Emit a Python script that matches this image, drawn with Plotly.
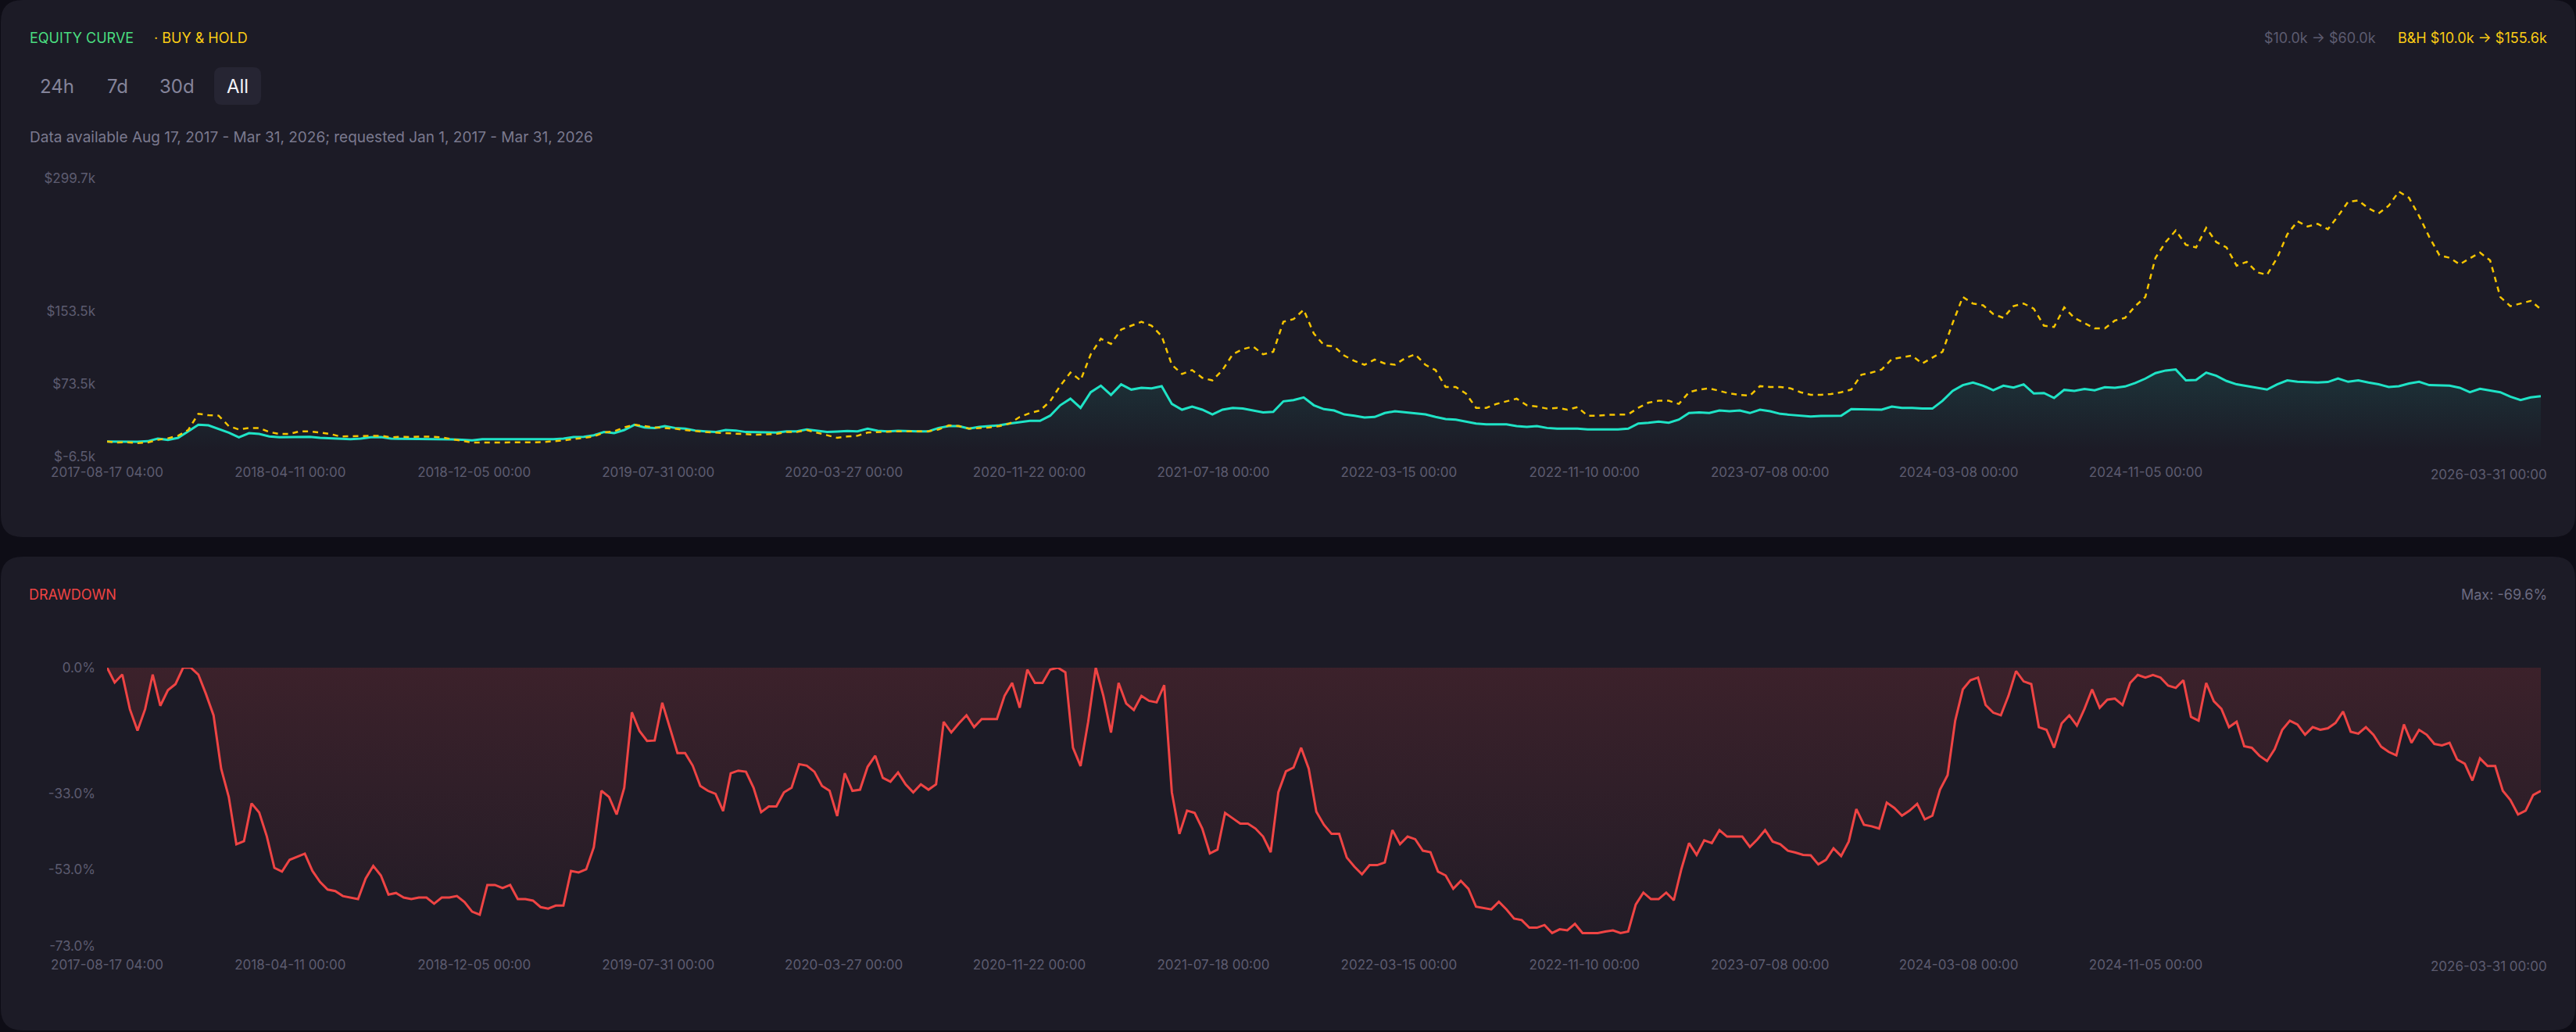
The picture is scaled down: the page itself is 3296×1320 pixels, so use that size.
import pandas as pd
import plotly.graph_objects as go

W, H = 3296, 1320

start = "2017-08-17 04:00"
end = "2026-03-31 00:00"

# strategy equity, $k
equity_k = [
    10.0, 9.8, 9.5, 9.8, 10.4, 13.3, 11.9, 14.1, 21.3, 28.5, 27.9, 24.2, 19.9, 14.7, 19.3, 18.4,
    15.6, 14.7, 15.0, 15.0, 15.3, 14.1, 13.6, 13.3, 12.7, 13.3, 14.7, 15.0, 13.3, 13.0, 13.0, 13.0,
    12.7, 12.7, 12.4, 11.9, 11.3, 12.7, 12.7, 12.7, 12.4, 12.7, 12.4, 12.7, 12.7, 13.3, 15.0, 15.3,
    17.0, 20.5, 19.3, 22.7, 28.5, 25.6, 25.0, 27.0, 25.0, 24.2, 22.2, 21.3, 20.5, 22.7, 22.2, 20.5,
    20.5, 19.9, 19.9, 21.3, 21.3, 23.3, 22.2, 20.5, 21.1, 21.6, 21.3, 24.2, 21.9, 21.3, 21.9, 21.3,
    21.3, 21.3, 25.0, 27.0, 27.0, 24.2, 26.2, 27.0, 27.9, 29.9, 31.3, 32.8, 32.8, 38.5, 50.0, 57.2,
    47.1, 64.3, 71.5, 61.4, 72.9, 67.2, 69.2, 68.6, 70.9, 51.4, 45.1, 48.5, 45.1, 39.9, 45.1, 47.1,
    46.3, 44.2, 42.2, 42.8, 54.3, 55.7, 58.6, 50.0, 45.7, 44.2, 39.9, 38.5, 36.5, 37.1, 41.4, 43.4,
    42.2, 41.4, 39.9, 37.1, 34.8, 34.2, 31.9, 29.9, 29.0, 29.0, 29.0, 27.0, 26.2, 27.0, 25.0, 24.2,
    24.2, 24.2, 23.3, 23.3, 23.3, 23.3, 24.2, 29.9, 30.7, 31.9, 30.7, 34.2, 41.4, 42.2, 41.4, 44.2,
    43.4, 44.2, 41.4, 45.1, 43.4, 40.5, 39.4, 38.5, 37.6, 38.2, 38.5, 38.5, 45.7, 45.7, 45.1, 45.1,
    48.5, 47.1, 47.1, 46.3, 46.3, 54.9, 65.8, 72.1, 75.0, 71.5, 66.6, 71.5, 69.5, 73.0, 62.9, 63.4,
    58.0, 66.9, 65.8, 67.8, 66.4, 69.8, 69.2, 70.6, 74.4, 79.3, 85.3, 88.2, 89.3, 77.3, 77.8, 85.9,
    82.4, 76.7, 73.0, 71.0, 68.6, 67.2, 73.0, 77.3, 75.8, 75.6, 75.0, 75.6, 79.5, 75.8, 77.3, 75.0,
    73.0, 70.1, 71.0, 73.9, 75.8, 72.1, 72.1, 71.5, 69.2, 64.3, 68.1, 66.4, 64.3, 59.4, 55.7, 58.6,
    60.0,
]

# buy & hold, $k
buy_hold_k = [
    10.0, 9.0, 9.2, 8.4, 9.0, 11.9, 13.6, 16.4, 22.7, 40.6, 39.0, 38.5, 27.0, 23.3, 25.0, 25.0,
    20.5, 18.4, 18.4, 21.3, 21.3, 19.9, 18.4, 15.6, 15.6, 16.1, 16.4, 16.4, 14.7, 15.3, 15.0, 15.6,
    15.3, 14.7, 12.7, 10.7, 9.0, 9.0, 9.0, 9.0, 8.7, 9.0, 9.2, 9.5, 10.1, 11.3, 12.7, 14.1,
    15.6, 19.9, 21.3, 25.6, 28.5, 27.0, 25.6, 25.0, 24.2, 22.7, 21.3, 20.5, 19.9, 19.3, 18.4, 18.1,
    17.6, 18.1, 18.4, 20.5, 20.5, 22.7, 19.9, 17.0, 14.1, 15.6, 16.4, 19.9, 20.5, 21.3, 21.3, 21.3,
    21.1, 21.3, 23.3, 27.9, 27.0, 24.2, 25.0, 25.6, 27.0, 29.9, 37.1, 41.4, 44.2, 54.3, 71.5, 85.9,
    77.3, 106.0, 123.2, 117.4, 133.2, 137.5, 141.8, 137.5, 126.0, 94.5, 84.4, 88.7, 80.1, 77.3, 88.7, 106.0,
    111.7, 114.6, 106.0, 108.8, 141.8, 144.7, 155.0, 128.9, 116.0, 114.6, 104.6, 98.8, 94.5, 100.2, 95.9, 94.5,
    101.7, 106.0, 94.5, 88.7, 70.1, 70.1, 62.9, 47.1, 47.1, 51.4, 54.3, 57.2, 50.0, 48.5, 46.3, 47.1,
    45.1, 47.9, 38.5, 38.5, 39.4, 39.4, 39.9, 47.1, 52.8, 54.9, 54.9, 51.4, 64.3, 67.2, 68.6, 65.8,
    62.9, 61.4, 60.6, 71.0, 70.1, 70.1, 68.6, 64.3, 61.4, 61.4, 62.3, 64.3, 67.2, 83.6, 85.9, 89.3,
    100.8, 102.6, 104.6, 95.9, 102.6, 108.8, 140.4, 169.1, 161.9, 159.9, 150.4, 146.1, 159.0, 161.9, 156.2, 137.5,
    136.1, 157.6, 146.1, 140.4, 134.6, 134.6, 143.2, 146.1, 159.0, 169.1, 212.2, 229.4, 242.3, 226.5, 223.6, 245.1,
    229.4, 223.6, 203.5, 207.8, 196.3, 193.5, 212.2, 238.0, 252.3, 246.6, 249.5, 243.7, 258.1, 273.8, 275.3, 266.7,
    260.9, 269.5, 285.0, 278.2, 258.1, 235.1, 215.0, 212.2, 205.0, 211.6, 217.9, 209.3, 169.1, 159.0, 161.9, 164.8,
    155.6,
]

# drawdown, %
drawdown_pct = [
    0, -3.9, -1.8, -10.9, -16.5, -10.9, -1.8, -10.0, -5.9, -4.3, 0, 0, -1.8, -6.9, -12.5, -26.5,
    -33.9, -46.3, -45.5, -35.6, -38.0, -44.2, -52.5, -53.5, -50.4, -49.6, -48.8, -53.3, -56.2, -58.2, -58.6, -59.9,
    -60.3, -60.7, -55.3, -52.0, -54.5, -59.5, -59.1, -60.3, -60.7, -60.3, -60.3, -61.9, -60.3, -60.3, -59.9, -61.5,
    -64.0, -64.8, -57.0, -57.0, -57.8, -57.0, -60.7, -60.7, -61.1, -62.8, -63.2, -62.4, -62.4, -53.3, -53.7, -52.9,
    -47.1, -32.3, -33.9, -38.5, -31.5, -11.7, -16.6, -19.2, -19.1, -9.2, -15.8, -22.4, -22.4, -25.7, -31.0, -32.3,
    -33.1, -37.6, -27.7, -27.0, -27.3, -31.5, -37.9, -36.4, -36.4, -32.7, -31.5, -25.3, -25.7, -27.3, -31.0, -32.3,
    -38.9, -27.7, -32.3, -32.0,
    -26.0, -23.1, -28.9, -29.9, -27.5, -30.6, -32.7, -30.6, -32.0, -30.6, -14.2, -17.0, -14.6, -12.5, -15.6, -13.5,
    -13.5, -13.5, -7.4, -4.0, -10.5, -0.5, -4.0, -4.0, -0.5, 0, -1.2, -21.0, -25.8, -14.2, 0, -7.4,
    -17.0, -4.0, -9.4, -11.1, -7.4, -8.7, -9.1, -4.6, -32.7, -43.6, -37.5, -38.1, -42.2, -48.7, -47.7, -38.1,
    -39.5, -40.9, -40.9, -42.2, -44.3, -48.4, -32.7, -27.2, -26.2, -21.0, -26.5, -37.8, -41.2, -43.6, -43.6, -49.8,
    -52.2, -54.2, -51.8, -51.8, -51.1, -42.6, -46.3, -44.3, -45.0, -48.0, -48.4, -53.5, -54.5, -58.0, -55.9, -58.0,
    -62.7, -63.1, -63.4, -61.4, -63.4, -65.8, -66.2, -68.2, -68.2, -67.5, -69.6, -68.6, -68.9, -67.2, -69.6, -69.6,
    -69.6, -69.2, -68.9, -69.6, -69.2, -62.1, -59.0, -60.7, -60.7, -59.0, -61.0, -52.8, -46.0, -49.1,
    -45.3, -46.0, -42.6, -44.3, -44.3, -44.3, -47.0, -45.0, -42.6, -45.6, -46.3, -48.0, -48.5, -49.1, -49.2, -51.6,
    -50.4, -47.4, -49.4, -45.6, -37.1, -41.2, -41.6, -42.2, -35.4, -36.8, -38.8, -37.5, -35.7, -39.8, -38.8, -32.0,
    -28.2, -13.9, -5.7, -3.3, -2.6, -9.8, -11.8, -12.5, -7.4, -0.9, -3.6, -4.3, -15.6, -16.3, -21.0, -14.6,
    -12.5, -15.2, -10.8, -5.7, -10.5, -8.4, -8.1, -9.8, -4.0, -1.9, -2.6, -1.9, -2.6, -4.7, -5.3, -3.3,
    -12.9, -13.9, -4.0, -8.8, -10.8, -15.6, -14.2, -20.6, -21.0, -23.1, -24.5, -21.4, -16.3, -13.9, -14.9, -17.6,
    -15.6, -16.3, -15.9, -14.5, -11.5, -16.8, -17.3, -15.6, -17.6, -20.7, -22.1, -23.0, -14.9, -19.7, -16.3, -17.6,
    -20.0, -20.4, -19.7, -24.1, -25.2, -29.6, -23.8, -25.8, -25.8, -32.3, -34.7, -38.5, -37.5, -33.4, -32.3,
]

x_tick_dates = ["2017-08-17 04:00", "2018-04-11", "2018-12-05", "2019-07-31", "2020-03-27", "2020-11-22",
                "2021-07-18", "2022-03-15", "2022-11-10", "2023-07-08", "2024-03-08", "2024-11-05"]
x_tick_text = ["2017-08-17 04:00", "2018-04-11 00:00", "2018-12-05 00:00", "2019-07-31 00:00",
               "2020-03-27 00:00", "2020-11-22 00:00", "2021-07-18 00:00", "2022-03-15 00:00",
               "2022-11-10 00:00", "2023-07-08 00:00", "2024-03-08 00:00", "2024-11-05 00:00"]
last_tick_text = "2026-03-31 00:00"

eq_tick_vals = [-6.5, 73.5, 153.5, 299.7]
eq_tick_text = ["$-6.5k", "$73.5k", "$153.5k", "$299.7k"]
dd_tick_vals = [0, -33, -53, -73]
dd_tick_text = ["0.0%", "-33.0%", "-53.0%", "-73.0%"]

equity_dates = pd.date_range(start, end, periods=len(equity_k))
bh_dates = pd.date_range(start, end, periods=len(buy_hold_k))
dd_dates = pd.date_range(start, end, periods=len(drawdown_pct))

FONT = "Inter"
GREY = "#5d5c70"
CARD = "#1c1b26"
PAGE = "#0e0d16"


def px(x):
    return x / W


def py(y):
    return 1 - y / H


def rounded(x0, y0, x1, y1, r):
    pts = [("M", x0 + r, y0), ("L", x1 - r, y0), ("Q", x1, y0, x1, y0 + r), ("L", x1, y1 - r),
           ("Q", x1, y1, x1 - r, y1), ("L", x0 + r, y1), ("Q", x0, y1, x0, y1 - r),
           ("L", x0, y0 + r), ("Q", x0, y0, x0 + r, y0)]
    out = []
    for p in pts:
        cmd, coords = p[0], p[1:]
        xy = []
        for k in range(0, len(coords), 2):
            xy.append(f"{px(coords[k]):.6f},{py(coords[k + 1]):.6f}")
        out.append(cmd + " " + " ".join(xy))
    return " ".join(out) + " Z"


fig = go.Figure()

fig.add_trace(go.Scatter(
    x=equity_dates, y=equity_k, mode="lines",
    line=dict(color="#1fe3c6", width=3),
    fill="tozeroy",
    fillgradient=dict(type="vertical",
                      colorscale=[[0, "rgba(31,227,198,0.0)"], [1, "rgba(31,227,198,0.12)"]]),
    xaxis="x", yaxis="y", hoverinfo="skip",
))
fig.add_trace(go.Scatter(
    x=bh_dates, y=buy_hold_k, mode="lines",
    line=dict(color="#f5c400", width=2.5, dash="7px,6px"),
    xaxis="x", yaxis="y", hoverinfo="skip",
))
fig.add_trace(go.Scatter(
    x=dd_dates, y=drawdown_pct, mode="lines",
    line=dict(color="#ef4444", width=3),
    fill="tozeroy",
    fillgradient=dict(type="vertical",
                      colorscale=[[0, "rgba(239,68,68,0.03)"], [1, "rgba(239,68,68,0.15)"]]),
    xaxis="x2", yaxis="y2", hoverinfo="skip",
))

xdom = [px(137), px(3251)]
axis_common = dict(showgrid=False, zeroline=False, showline=False, ticks="", automargin=False,
                   tickfont=dict(family=FONT, size=17, color=GREY))

fig.update_layout(
    width=W, height=H, autosize=False,
    margin=dict(l=0, r=0, t=0, b=0, pad=0, autoexpand=False),
    paper_bgcolor=PAGE, plot_bgcolor="rgba(0,0,0,0)",
    showlegend=False,
    font=dict(family=FONT, color=GREY),
    xaxis=dict(domain=xdom, anchor="y", type="date", range=[start, end],
               tickvals=x_tick_dates, ticktext=x_tick_text, ticklabelstandoff=8, **axis_common),
    yaxis=dict(domain=[py(584), py(228)], anchor="x", range=[-6.5, 299.7],
               tickvals=eq_tick_vals, ticktext=eq_tick_text, ticklabelstandoff=14, **axis_common),
    xaxis2=dict(domain=xdom, anchor="y2", type="date", range=[start, end],
                tickvals=x_tick_dates, ticktext=x_tick_text, ticklabelstandoff=12, **axis_common),
    yaxis2=dict(domain=[py(1210), py(854)], anchor="x2", range=[-73, 0],
                tickvals=dd_tick_vals, ticktext=dd_tick_text, ticklabelstandoff=14, **axis_common),
    shapes=[
        dict(type="path", xref="paper", yref="paper", path=rounded(1, 0, 3295, 687, 28),
             fillcolor=CARD, line=dict(width=0), layer="below"),
        dict(type="path", xref="paper", yref="paper", path=rounded(1, 712, 3295, 1318, 28),
             fillcolor=CARD, line=dict(width=0), layer="below"),
        dict(type="path", xref="paper", yref="paper", path=rounded(274, 86, 334, 134, 10),
             fillcolor="#262533", line=dict(width=0), layer="below"),
    ],
)


def label(text, x, y, color, size, anchor="left", **kw):
    fig.add_annotation(text=text, x=px(x), y=py(y), xref="paper", yref="paper",
                       xanchor=anchor, yanchor="middle", showarrow=False,
                       font=dict(family=FONT, size=size, color=color), **kw)


label("EQUITY CURVE", 36, 48, "#4ade80", 18)
label("· BUY &amp; HOLD", 195, 48, "#facc15", 18)
label("$10.0k → $60.0k", 3042, 48, "#5d5c70", 18, anchor="right")
label("B&amp;H $10.0k → $155.6k", 3261, 48, "#facc15", 18, anchor="right")

for txt, cx, col in [("24h", 73, "#85849a"), ("7d", 150, "#85849a"), ("30d", 226, "#85849a"), ("All", 304, "#f2f2f7")]:
    label(txt, cx, 110, col, 24, anchor="center")

label("Data available Aug 17, 2017 - Mar 31, 2026; requested Jan 1, 2017 - Mar 31, 2026", 36, 176, "#7a798e", 19)

label("DRAWDOWN", 35, 760, "#ef4444", 18)
label("Max: -69.6%", 3261, 760, "#6b6a80", 18, anchor="right")

# right-aligned final date label on both x axes
for xref, ypix in [("x", 607), ("x2", 1236)]:
    fig.add_annotation(text=last_tick_text, x=end, xref=xref, y=py(ypix), yref="paper",
                       xanchor="right", yanchor="middle", xshift=10, showarrow=False,
                       font=dict(family=FONT, size=17, color=GREY))

fig.write_html("out.html", config={"displayModeBar": False},
               post_script="document.body.style.margin='0';document.body.style.background='" + PAGE + "';")
